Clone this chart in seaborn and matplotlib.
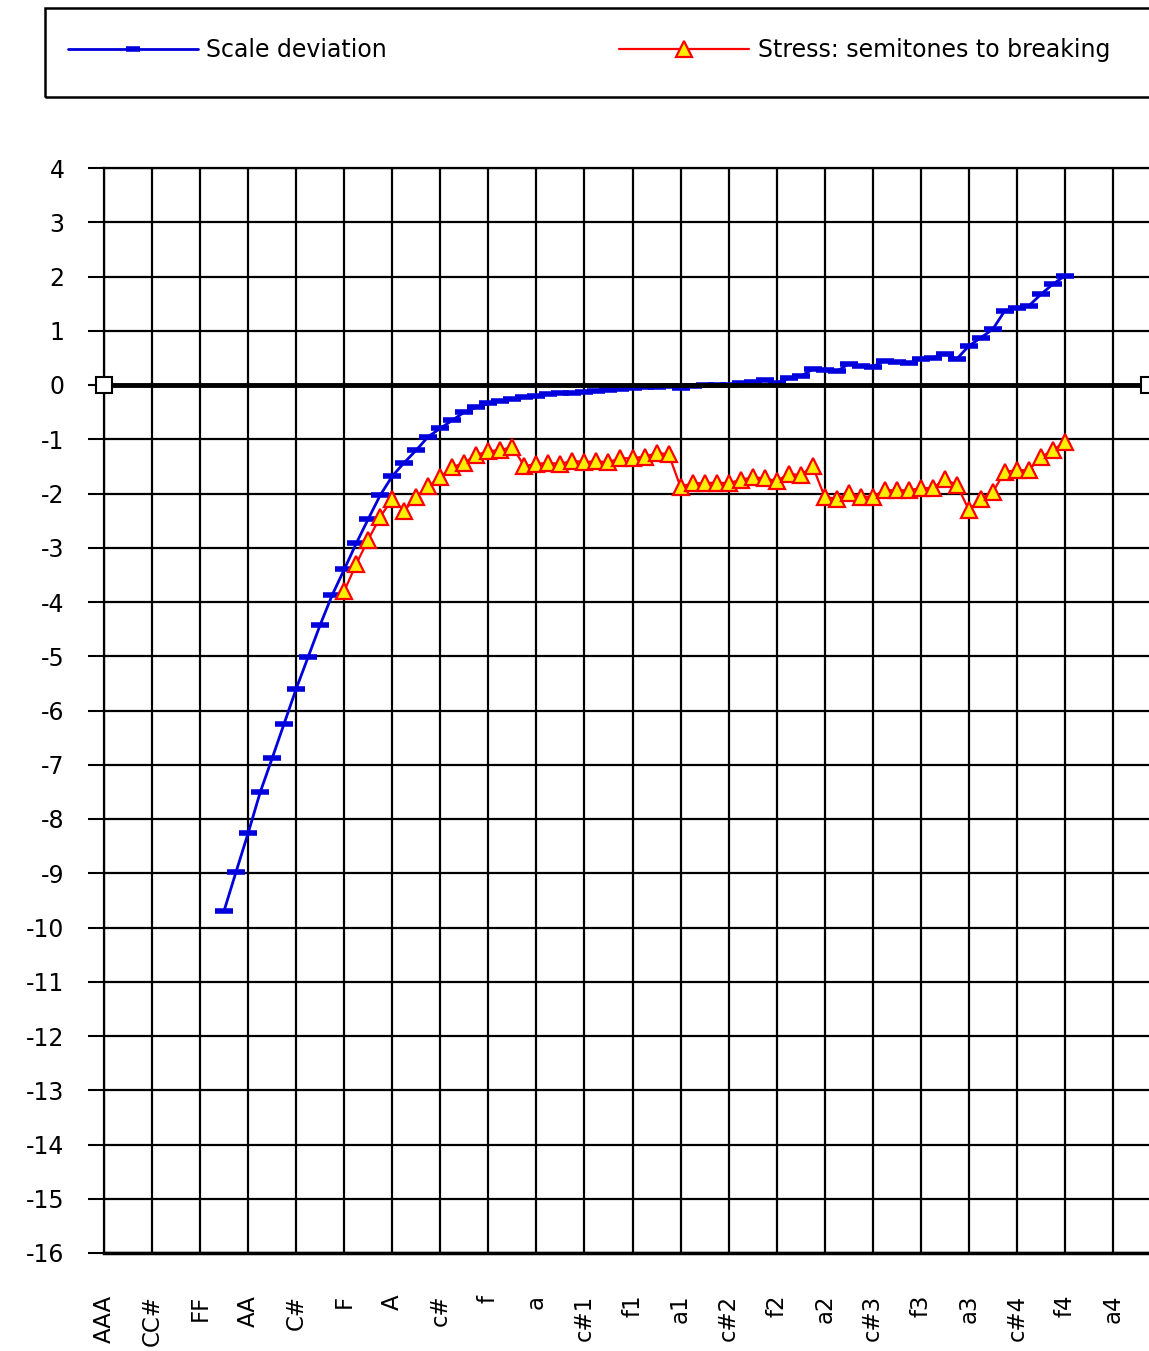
import numpy as np
import pandas as pd
import matplotlib
matplotlib.use('Agg')
import matplotlib.pyplot as plt
import seaborn as sns
from matplotlib.lines import Line2D
from matplotlib.patches import Rectangle

# x axis: semitones above AAA (88 keys, 0..87), labelled every 4 semitones
note_labels = ['AAA', 'CC#', 'FF', 'AA', 'C#', 'F', 'A', 'c#', 'f', 'a', 'c#1',
               'f1', 'a1', 'c#2', 'f2', 'a2', 'c#3', 'f3', 'a3', 'c#4', 'f4', 'a4']
n_keys = 88

# Scale deviation, from GG (key 10) to f4 (key 80)
deviation_start = 10
scale_deviation = [
    -9.69, -8.97, -8.26, -7.51, -6.88, -6.24, -5.60, -5.01, -4.42, -3.87,
    -3.40, -2.92, -2.47, -2.03, -1.68, -1.43, -1.20, -0.95, -0.80, -0.65,
    -0.50, -0.41, -0.34, -0.29, -0.26, -0.23, -0.20, -0.17, -0.15, -0.14,
    -0.13, -0.11, -0.09, -0.08, -0.06, -0.04, -0.03, -0.02, -0.06, -0.02,
    0.00, 0.00, 0.00, 0.03, 0.06, 0.10, 0.03, 0.12, 0.16, 0.29,
    0.27, 0.25, 0.39, 0.35, 0.34, 0.45, 0.42, 0.40, 0.48, 0.50,
    0.58, 0.48, 0.72, 0.87, 1.03, 1.37, 1.42, 1.46, 1.67, 1.86,
    2.01,
]

# Stress: semitones to breaking, from F (key 20) to f4 (key 80)
stress_start = 20
stress = [
    -3.80, -3.30, -2.85, -2.43, -2.10, -2.32, -2.06, -1.87, -1.69, -1.52,
    -1.43, -1.29, -1.22, -1.20, -1.14, -1.50, -1.45, -1.44, -1.45, -1.40,
    -1.42, -1.41, -1.42, -1.35, -1.35, -1.32, -1.26, -1.27, -1.88, -1.81,
    -1.81, -1.80, -1.81, -1.75, -1.70, -1.72, -1.77, -1.64, -1.66, -1.50,
    -2.06, -2.10, -1.99, -2.06, -2.06, -1.94, -1.94, -1.94, -1.90, -1.90,
    -1.74, -1.84, -2.30, -2.10, -1.97, -1.60, -1.57, -1.57, -1.33, -1.20,
    -1.05,
]

# zero reference line across the whole keyboard
zero_keys = [0, n_keys - 1]
zero_vals = [0, 0]

dev_df = pd.DataFrame({'key': np.arange(deviation_start, deviation_start + len(scale_deviation)),
                       'value': scale_deviation})
stress_df = pd.DataFrame({'key': np.arange(stress_start, stress_start + len(stress)),
                          'value': stress})
zero_df = pd.DataFrame({'key': zero_keys, 'value': zero_vals})

sns.set_style('white')
plt.rcParams['font.family'] = ['DejaVu Sans']
plt.rcParams['text.color'] = 'black'

W, H = 1149, 1351
fig = plt.figure(figsize=(W / 100, H / 100), dpi=100)
ax = fig.add_axes([104 / W, 1 - 1253 / H, 1 - 104 / W, (1253 - 168) / H])

blue = '#0000dd'
sns.lineplot(data=dev_df, x='key', y='value', ax=ax, color=blue, linewidth=2,
             marker='_', markersize=13, markeredgewidth=4,
             markeredgecolor=blue, zorder=3)
sns.lineplot(data=stress_df, x='key', y='value', ax=ax, color='red', linewidth=1.6,
             marker='^', markersize=12, markerfacecolor='#ffee00',
             markeredgecolor='red', markeredgewidth=1.6, zorder=4)
sns.lineplot(data=zero_df, x='key', y='value', ax=ax, color='black', linewidth=3.5,
             marker='s', markersize=12, markerfacecolor='white',
             markeredgecolor='black', markeredgewidth=1.5, zorder=5)
ax.lines[-1].set_clip_on(False)

ax.set_xlim(0, n_keys - 1)
ax.set_ylim(-16, 4)
ax.set_xticks(np.arange(0, 4 * len(note_labels), 4))
ax.set_xticklabels(note_labels, rotation=90, fontsize=16.5)
ax.set_yticks(np.arange(-16, 5, 1))
ax.set_yticklabels([str(v) for v in range(-16, 5)], fontsize=17)
ax.set_xlabel('')
ax.set_ylabel('')

ax.set_axisbelow(True)
ax.grid(True, color='black', linewidth=1.6)
ax.tick_params(axis='y', direction='out', length=11.5, width=1.5, pad=17,
               left=True, colors='black')
ax.tick_params(axis='x', length=0, pad=30, colors='black')
for side in ['left', 'bottom', 'top']:
    ax.spines[side].set_color('black')
    ax.spines[side].set_linewidth(1.6)
ax.spines['bottom'].set_linewidth(2.5)
ax.spines['right'].set_visible(False)

# legend box (runs off the right edge like the original)
fig.patches.append(Rectangle((45 / W, 1 - 97 / H), (1250 - 45) / W, 89 / H,
                             transform=fig.transFigure, fill=False,
                             edgecolor='black', linewidth=1.8))
handles = [
    Line2D([], [], color=blue, linewidth=2, marker='_', markersize=10,
           markeredgewidth=4),
    Line2D([], [], color='red', linewidth=1.6, marker='^', markersize=12,
           markerfacecolor='#ffee00', markeredgecolor='red', markeredgewidth=1.6),
]
fig.legend(handles, ['Scale deviation', 'Stress: semitones to breaking'],
           loc='center left', bbox_to_anchor=(68 / W, 1 - 50 / H), ncol=2,
           frameon=False, fontsize=17, handlelength=5.5, handletextpad=0.35,
           columnspacing=9.85, borderpad=0, borderaxespad=0)

fig.savefig('out.png', dpi=100)
